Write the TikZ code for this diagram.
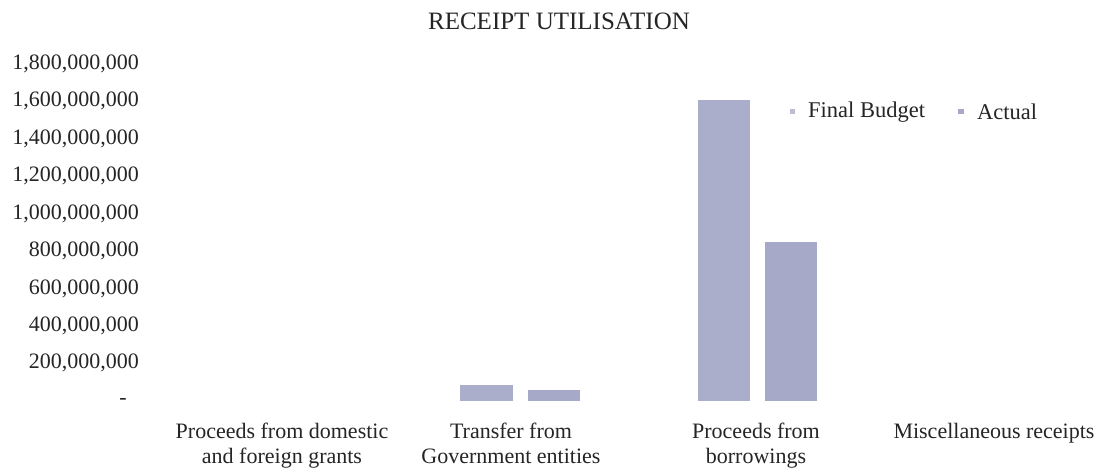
\documentclass[tikz,border=0pt]{standalone}
\usepackage{fontspec}
\setmainfont{Liberation Serif}
\definecolor{budget}{HTML}{ABAECB}
\definecolor{actual}{HTML}{A6A9C7}
\definecolor{ink}{HTML}{252525}
\tikzset{
  ylab/.style={anchor=east, inner sep=0pt, font=\fontsize{22}{24}\selectfont, text=ink},
  catlab/.style={anchor=north, align=center, inner sep=0pt, font=\fontsize{22}{25}\selectfont, text=ink},
  bbar/.style={fill=budget, draw=none},
  abar/.style={fill=actual, draw=none},
  leg/.style={anchor=west, inner sep=0pt, font=\fontsize{22.5}{24}\selectfont, text=ink},
}
\begin{document}
\begin{tikzpicture}[x=1pt,y=-1pt]
\useasboundingbox[fill=white] (0,0) rectangle (1104,471);
% title
\node[inner sep=0pt, font=\fontsize{25}{27}\selectfont, text=ink] (title) at (559,21) {RECEIPT UTILISATION};
% y axis labels
\node[ylab] (y18) at (139,64) {1,800,000,000};
\node[ylab] (y16) at (139,101) {1,600,000,000};
\node[ylab] (y14) at (139,139) {1,400,000,000};
\node[ylab] (y12) at (139,176) {1,200,000,000};
\node[ylab] (y10) at (139,214) {1,000,000,000};
\node[ylab] (y8) at (139,251) {800,000,000};
\node[ylab] (y6) at (139,289) {600,000,000};
\node[ylab] (y4) at (139,326) {400,000,000};
\node[ylab] (y2) at (139,363) {200,000,000};
\node[ylab] (y0) at (127,401) {-};
% bars
\fill[bbar] (460,385) rectangle (513,401);
\fill[abar] (528,390) rectangle (580,401);
\fill[bbar] (698,100) rectangle (750,401);
\fill[abar] (765,242) rectangle (817,401);
% legend
\fill[budget!80] (790,109) rectangle (795,114);
\node[leg] (lfb) at (808,112) {Final Budget};
\fill[actual] (958,109) rectangle (964,114);
\node[leg] (lac) at (977,112) {Actual};
% category labels
\node[catlab] (c1) at (282,421) {\strut Proceeds from domestic\\\strut and foreign grants};
\node[catlab] (c2) at (511,421) {\strut Transfer from\\\strut Government entities};
\node[catlab] (c3) at (756,421) {\strut Proceeds from\\\strut borrowings};
\node[catlab] (c4) at (994,421) {\strut Miscellaneous receipts};
\end{tikzpicture}
\end{document}
